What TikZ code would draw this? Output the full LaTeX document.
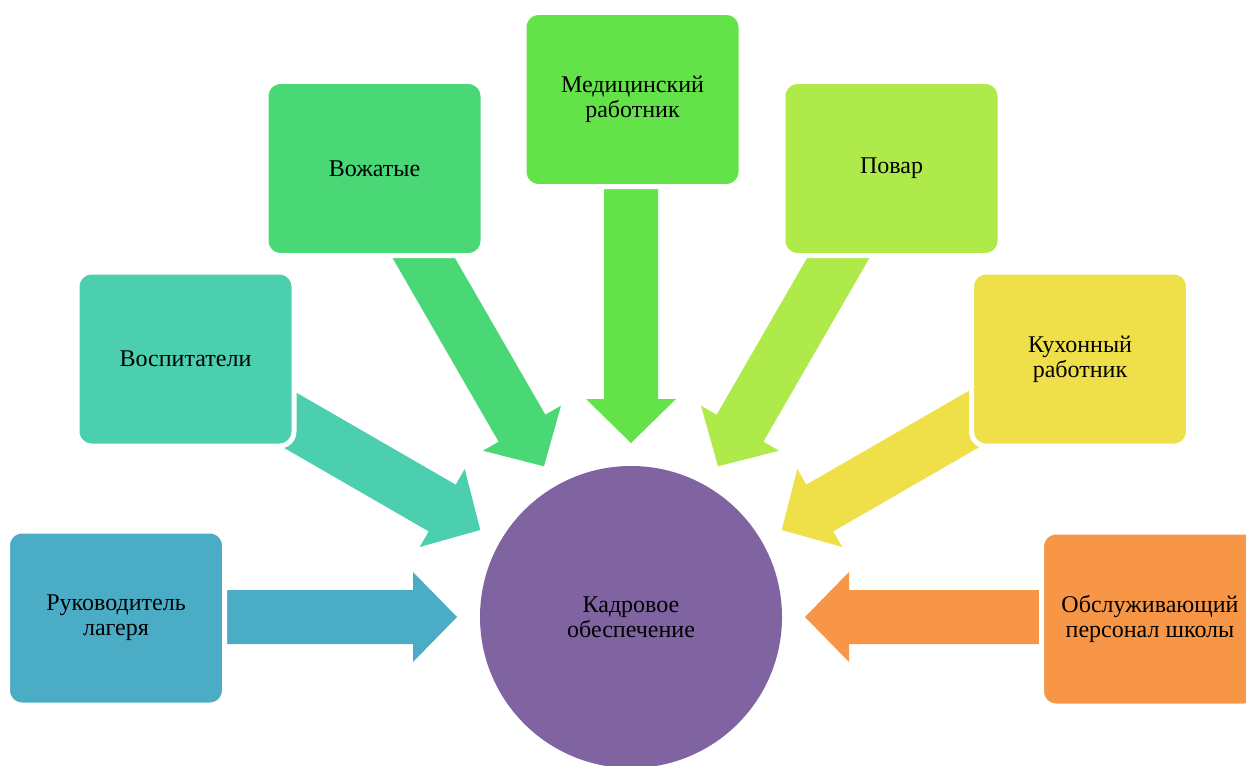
\documentclass[tikz,border=0pt]{standalone}
\usepackage{fontspec}
\setmainfont{Liberation Serif}
\usetikzlibrary{positioning}

\definecolor{leadcol}{HTML}{4BACC6}
\definecolor{tutorcol}{HTML}{4BCFAF}
\definecolor{counselcol}{HTML}{4AD775}
\definecolor{mediccol}{HTML}{64E24A}
\definecolor{cookcol}{HTML}{AEEA4A}
\definecolor{kitchencol}{HTML}{EFE04A}
\definecolor{servicecol}{HTML}{F79646}
\definecolor{staffcol}{HTML}{8064A2}

\begin{document}
\begin{tikzpicture}
% Style
[
    x=1pt, y=-1pt, line cap=round,
    staff text/.style={align=center, text=black, font=\fontsize{24}{25}\selectfont},
    staff box/.style={staff text, rounded corners=14.5pt, draw=white, line width=5pt,
        minimum width=217pt, minimum height=174pt, inner sep=0pt},
    staff circle/.style={staff text, circle, fill=staffcol, minimum size=302pt, inner sep=0pt}
]

% Define: Params
\newcommand{\tipradius}{174} %tip_radius
\newcommand{\headradius}{218} %head_radius
\newcommand{\tailradius}{440} %tail_radius, hidden under the boxes

%================================== Prepare ==================================
\newcommand{\drawblockarrow}[2]{
    % Draw: block arrow, from under the box down to the tip
    \fill[#2, shift={(staff.center)}, rotate=#1]
        (\tipradius,0) -- (\headradius,45) -- (\headradius,27) -- (\tailradius,27)
        -- (\tailradius,-27) -- (\headradius,-27) -- (\headradius,-45) -- cycle;
}

%=================================== Start ===================================
{
    \useasboundingbox (0,0) rectangle (1246,765);

    % Draw: Center
    \node[staff circle] (staff) at (631,617) {Кадровое\\обеспечение};

    % Draw: Arrows
    \foreach \a / \c in {180/leadcol, 150/tutorcol, 120/counselcol,
        90/mediccol, 60/cookcol, 30/kitchencol, 0/servicecol} {
        \drawblockarrow{\a}{\c};
    }

    % Draw: Staff
    \node[staff box, fill=leadcol] (lead) at (116,618) {Руководитель\\лагеря};
    \node[staff box, fill=tutorcol] (tutor) at (185.5,359) {Воспитатели};
    \node[staff box, fill=counselcol] (counsel) at (374.5,168.5) {Вожатые};
    \node[staff box, fill=mediccol] (medic) at (632.5,99.5) {Медицинский\\работник};
    \node[staff box, fill=cookcol] (cook) at (891.5,168.5) {Повар};
    \node[staff box, fill=kitchencol] (kitchen) at (1080,359) {Кухонный\\работник};
    \node[staff box, fill=servicecol] (service) at (1150,619) {Обслуживающий\\персонал школы};
}
%==================================== END ====================================

\end{tikzpicture}
\end{document}
